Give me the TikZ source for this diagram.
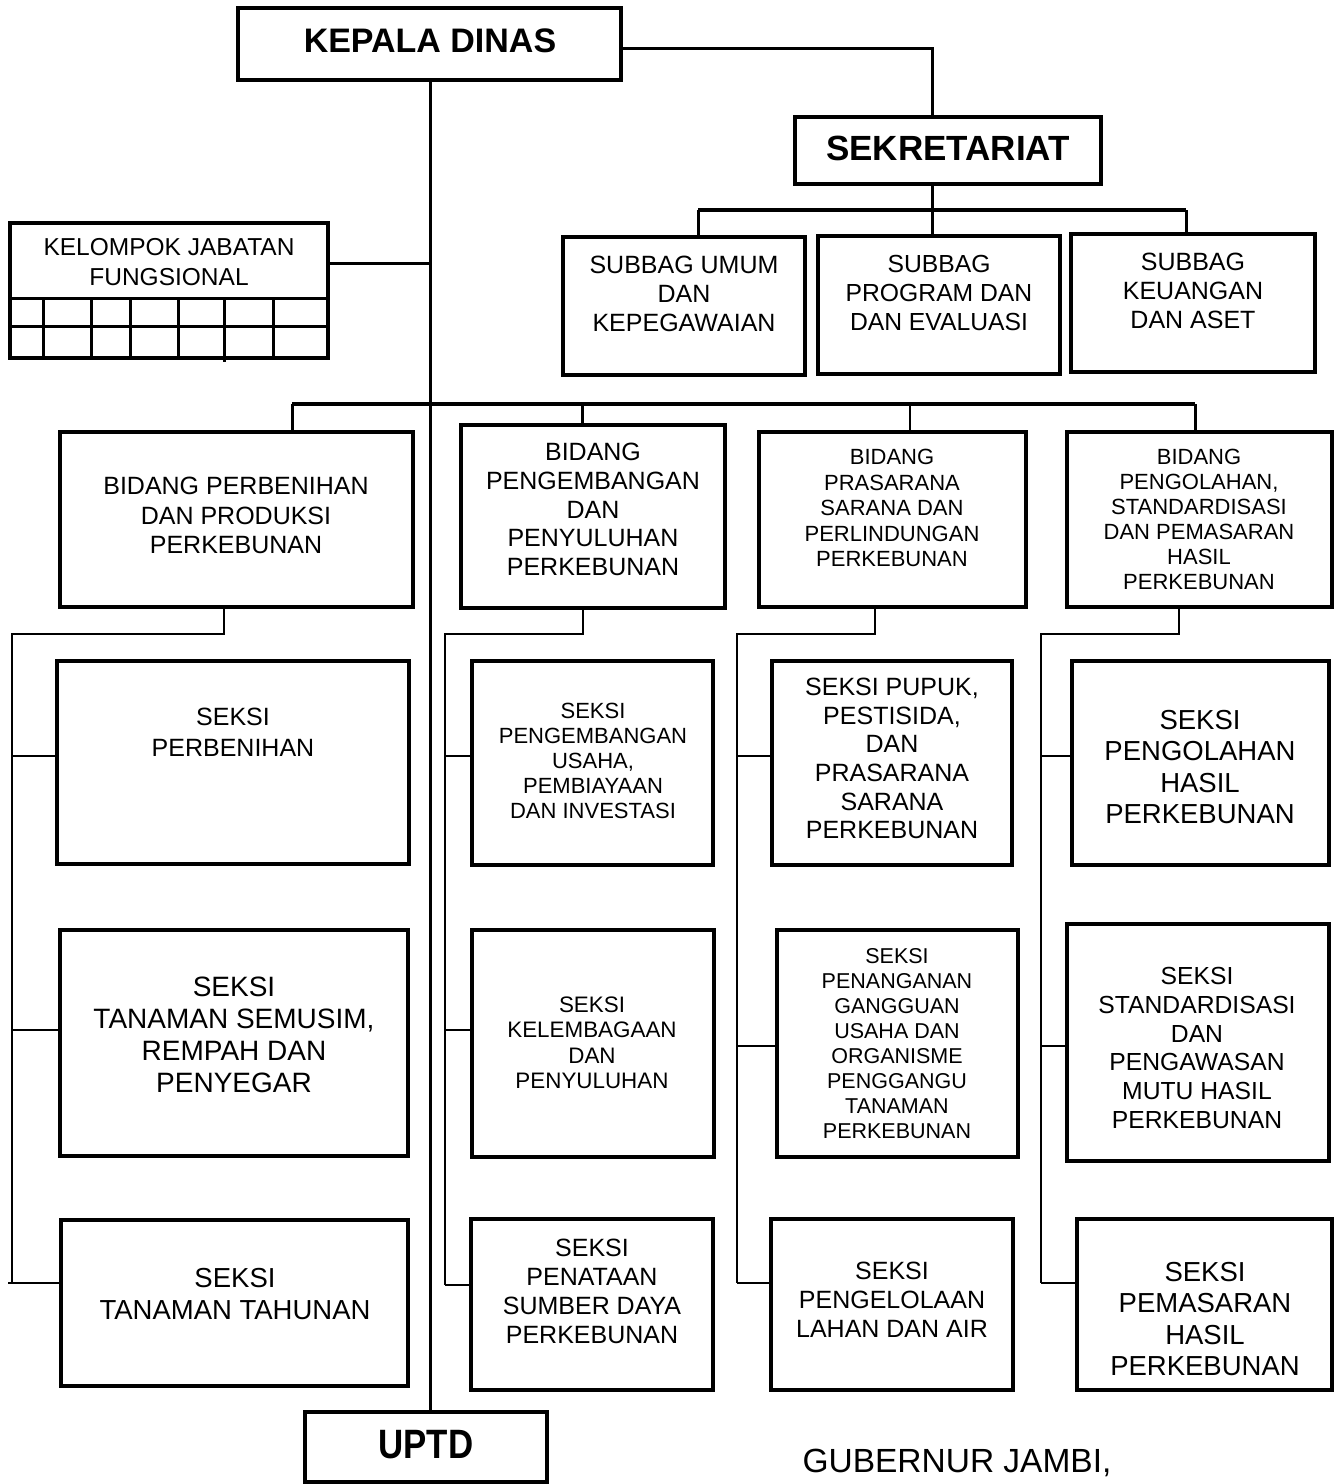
\documentclass[tikz,border=0pt]{standalone}
\usepackage{fontspec}
\setmainfont{Liberation Sans}
\newfontfamily\narrowsans[FakeStretch=0.85]{Liberation Sans}
\newcommand\fsz[2]{\fontsize{#1}{#2}\selectfont}
\newcommand\orgbox[5]{\node[box, minimum width={(#4-#2)*1pt}, minimum height={(#5-#3)*1pt}] (#1) at ({(#2+#4)/2},{(#3+#5)/2}) {};}
\tikzset{
  box/.style={draw=black, line width=4.5pt, fill=white, inner sep=0pt},
  txt/.style={align=center, inner sep=0pt, text=black},
  conn/.style={draw=black, line width=3pt},
  barl/.style={draw=black, line width=3.5pt},
  thinl/.style={draw=black, line width=2pt},
  gridl/.style={draw=black, line width=3pt}
}
\begin{document}
\begin{tikzpicture}[x=1pt,y=-1pt]
\useasboundingbox (0,0) rectangle (1341,1484);
\fill[white] (0,0) rectangle (1341,1484);

% coordinates for connectors
\coordinate (mx) at (430,0);
\coordinate (sekin) at (932,117);
\coordinate (sbar) at (932,210);
\coordinate (sbl) at (698,210);
\coordinate (sbr) at (1186,210);
\coordinate (kj) at (430,263);
\coordinate (bl) at (292,404);
\coordinate (bm2) at (582,404);
\coordinate (bm3) at (910,404);
\coordinate (br) at (1195,404);

\coordinate (d1) at (224,634); \coordinate (p1) at (12,634);
\coordinate (j11) at (12,756); \coordinate (j12) at (12,1030); \coordinate (j13) at (12,1283);
\coordinate (j13e) at (8,1283);
\coordinate (d2) at (583,634); \coordinate (p2) at (445,634);
\coordinate (j21) at (445,756); \coordinate (j22) at (445,1030); \coordinate (j23) at (445,1285);
\coordinate (d3) at (875,634); \coordinate (p3) at (737,634);
\coordinate (j31) at (737,756); \coordinate (j32) at (737,1046); \coordinate (j33) at (737,1283);
\coordinate (d4) at (1179,634); \coordinate (p4) at (1041,634);
\coordinate (j41) at (1041,756); \coordinate (j42) at (1041,1046); \coordinate (j43) at (1041,1283);

% main vertical line (drawn first, boxes over it)
\draw[conn] (430,80) -- (430,1412);

% boxes
\orgbox{kd}{238}{8}{621}{80}
\orgbox{sek}{795}{117}{1101}{184}
\orgbox{sg1}{563}{237}{805}{375}
\orgbox{sg2}{818}{236}{1060}{374}
\orgbox{sg3}{1071}{234}{1315}{372}
\orgbox{kjf}{10}{223}{328}{358}
\orgbox{b1}{60}{432}{413}{607}
\orgbox{b2}{461}{425}{725}{608}
\orgbox{b3}{759}{432}{1026}{607}
\orgbox{b4}{1067}{432}{1332}{607}
\orgbox{s11}{57}{661}{409}{864}
\orgbox{s12}{60}{930}{408}{1156}
\orgbox{s13}{61}{1220}{408}{1386}
\orgbox{s21}{472}{661}{713}{865}
\orgbox{s22}{472}{930}{714}{1157}
\orgbox{s23}{471}{1219}{713}{1390}
\orgbox{s31}{772}{661}{1012}{865}
\orgbox{s32}{777}{930}{1018}{1157}
\orgbox{s33}{771}{1219}{1013}{1390}
\orgbox{s41}{1072}{661}{1329}{865}
\orgbox{s42}{1067}{924}{1329}{1161}
\orgbox{s43}{1077}{1219}{1332}{1390}
\orgbox{uptd}{305}{1412}{547}{1482}

% kelompok grid
\draw[gridl] (10,298) -- (328,298);
\draw[gridl] (8,326) -- (328,326);
\foreach \gx in {43,91,130,178,273} {\draw[gridl] (\gx,297) -- (\gx,358);}
\draw[gridl] (224,297) -- (224,362);

% connectors top
\draw[conn] (kd.east |- 0,48) -| (sekin);
\draw[conn] (sek.south -| sbar) -- (sbar);
\draw[barl] (sbl) -- (sbr);
\draw[conn] (sbl) -- (sbl |- sg1.north);
\draw[conn] (sbar) -- (sbar |- sg2.north);
\draw[conn] (sbr) -- (sbr |- sg3.north);
\draw[conn] (kj -| kjf.east) -- (kj);

% bidang bar
\draw[barl] (bl) -- (br);
\draw[conn] (bl) -- (bl |- b1.north);
\draw[conn] (bm2) -- (bm2 |- b2.north);
\draw[thinl] (bm3) -- (bm3 |- b3.north);
\draw[conn] (br) -- (br |- b4.north);

% columns
\draw[thinl] (d1 |- b1.south) -- (d1) -- (p1) -- (j13);
\draw[thinl] (j11) -- (j11 -| s11.west);
\draw[thinl] (j12) -- (j12 -| s12.west);
\draw[thinl] (j13e) -- (j13e -| s13.west);
\draw[thinl] (d2 |- b2.south) -- (d2) -- (p2) -- (j23);
\draw[thinl] (j21) -- (j21 -| s21.west);
\draw[thinl] (j22) -- (j22 -| s22.west);
\draw[thinl] (j23) -- (j23 -| s23.west);
\draw[thinl] (d3 |- b3.south) -- (d3) -- (p3) -- (j33);
\draw[thinl] (j31) -- (j31 -| s31.west);
\draw[thinl] (j32) -- (j32 -| s32.west);
\draw[thinl] (j33) -- (j33 -| s33.west);
\draw[thinl] (d4 |- b4.south) -- (d4) -- (p4) -- (j43);
\draw[thinl] (j41) -- (j41 -| s41.west);
\draw[thinl] (j42) -- (j42 -| s42.west);
\draw[thinl] (j43) -- (j43 -| s43.west);

% texts
\node[txt, font=\fsz{34}{36}\bfseries] (kdt) at (430,41) {KEPALA DINAS};
\node[txt, font=\fsz{35}{36}\bfseries] (sekt) at (948,148) {SEKRETARIAT};
\node[txt, font=\narrowsans\fsz{41}{44}\bfseries] (uptdt) at (426,1445) {UPTD};
\node[txt, font=\fsz{24.5}{30}] (kjft) at (169,262) {KELOMPOK JABATAN\\FUNGSIONAL};
\node[txt, font=\fsz{25}{29}] (sg1t) at (684,294) {SUBBAG UMUM\\DAN\\KEPEGAWAIAN};
\node[txt, font=\fsz{24.7}{29}] (sg2t) at (939,292.5) {SUBBAG\\PROGRAM DAN\\DAN EVALUASI};
\node[txt, font=\fsz{25}{29}] (sg3t) at (1193,291) {SUBBAG\\KEUANGAN\\DAN ASET};
\node[txt, font=\fsz{25}{29.5}] (b1t) at (236,515.5) {BIDANG PERBENIHAN\\DAN PRODUKSI\\PERKEBUNAN};
\node[txt, font=\fsz{25}{28.8}] (b2t) at (593,509.5) {BIDANG\\PENGEMBANGAN\\DAN\\PENYULUHAN\\PERKEBUNAN};
\node[txt, font=\fsz{22}{25.5}] (b3t) at (892,508) {BIDANG\\PRASARANA\\SARANA DAN\\PERLINDUNGAN\\PERKEBUNAN};
\node[txt, font=\fsz{22}{25}] (b4t) at (1199,519.5) {BIDANG\\PENGOLAHAN,\\STANDARDISASI\\DAN PEMASARAN\\HASIL\\PERKEBUNAN};
\node[txt, font=\fsz{25}{31}] (s11t) at (233,732.5) {SEKSI\\PERBENIHAN};
\node[txt, font=\fsz{28}{32}] (s12t) at (234,1035) {SEKSI\\TANAMAN SEMUSIM,\\REMPAH DAN\\PENYEGAR};
\node[txt, font=\fsz{27.5}{32}] (s13t) at (235,1294) {SEKSI\\TANAMAN TAHUNAN};
\node[txt, font=\fsz{22}{25.2}] (s21t) at (593,761) {SEKSI\\PENGEMBANGAN\\USAHA,\\PEMBIAYAAN\\DAN INVESTASI};
\node[txt, font=\fsz{22.4}{25.5}] (s22t) at (592,1043) {SEKSI\\KELEMBAGAAN\\DAN\\PENYULUHAN};
\node[txt, font=\fsz{25}{29}] (s23t) at (592,1291.5) {SEKSI\\PENATAAN\\SUMBER DAYA\\PERKEBUNAN};
\node[txt, font=\fsz{25}{28.6}] (s31t) at (892,758.5) {SEKSI PUPUK,\\PESTISIDA,\\DAN\\PRASARANA\\SARANA\\PERKEBUNAN};
\node[txt, font=\fsz{21.5}{25}] (s32t) at (897,1043.5) {SEKSI\\PENANGANAN\\GANGGUAN\\USAHA DAN\\ORGANISME\\PENGGANGU\\TANAMAN\\PERKEBUNAN};
\node[txt, font=\fsz{25}{29}] (s33t) at (892,1300) {SEKSI\\PENGELOLAAN\\LAHAN DAN AIR};
\node[txt, font=\fsz{27.5}{31.3}] (s41t) at (1200,767) {SEKSI\\PENGOLAHAN\\HASIL\\PERKEBUNAN};
\node[txt, font=\fsz{24.7}{28.8}] (s42t) at (1197,1048) {SEKSI\\STANDARDISASI\\DAN\\PENGAWASAN\\MUTU HASIL\\PERKEBUNAN};
\node[txt, font=\fsz{27.5}{31.3}] (s43t) at (1205,1319) {SEKSI\\PEMASARAN\\HASIL\\PERKEBUNAN};
\node[txt, font=\fsz{33.5}{36}] (gub) at (957,1463) {GUBERNUR JAMBI,};
\end{tikzpicture}
\end{document}
